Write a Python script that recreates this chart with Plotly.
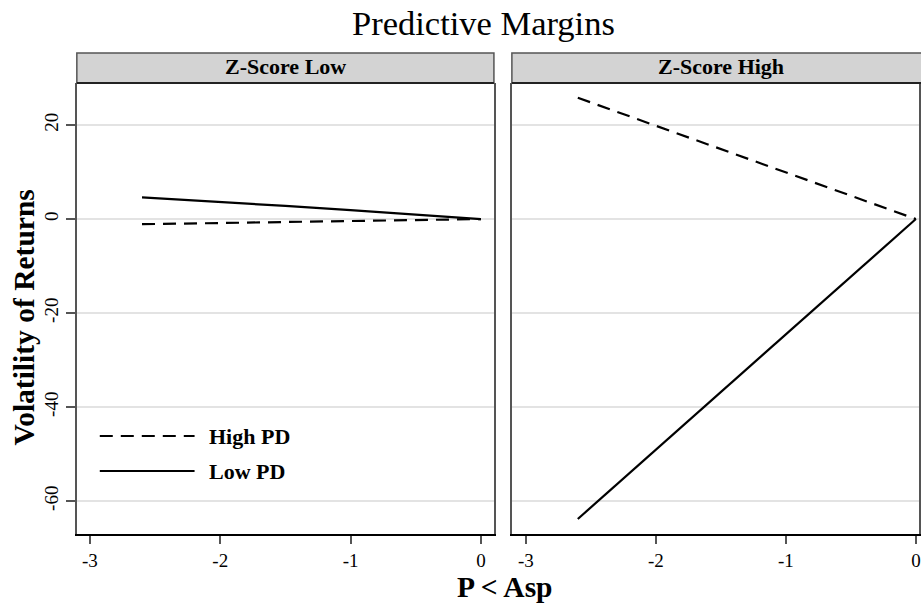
import plotly.graph_objects as go

W, H = 921, 604

# ---- data ----
low_z_lowpd_x = [-2.6, -2.0, -1.5, -1.0, -0.5, 0.0]
low_z_lowpd_y = [4.6, 3.7, 2.8, 1.9, 0.9, 0.0]
low_z_highpd_x = [-2.6, 0.0]
low_z_highpd_y = [-1.1, 0.0]
high_z_highpd_x = [-2.6, 0.0]
high_z_highpd_y = [25.8, 0.0]
high_z_lowpd_x = [-2.6, 0.0]
high_z_lowpd_y = [-63.8, 0.0]

panel_titles = ["Z-Score Low", "Z-Score High"]
series_names = ["High PD", "Low PD"]
y_ticks = [-60, -40, -20, 0, 20]
y_tick_labels = ["-60", "-40", "-20", "0", "20"]
x_ticks = [-3, -2, -1, 0]
x_tick_labels = ["-3", "-2", "-1", "0"]

SERIF = "Liberation Serif, Times New Roman, serif"
DASH = "13px,8px"


def px(x):
    return x / W


def py(y):
    return (H - y) / H


fig = go.Figure()
fig.add_trace(go.Scatter(x=low_z_highpd_x, y=low_z_highpd_y, mode="lines",
                         line=dict(color="black", width=2.2, dash=DASH),
                         xaxis="x", yaxis="y", name=series_names[0], showlegend=False))
fig.add_trace(go.Scatter(x=low_z_lowpd_x, y=low_z_lowpd_y, mode="lines",
                         line=dict(color="black", width=2.2),
                         xaxis="x", yaxis="y", name=series_names[1], showlegend=False))
fig.add_trace(go.Scatter(x=high_z_highpd_x, y=high_z_highpd_y, mode="lines",
                         line=dict(color="black", width=2.2, dash=DASH),
                         xaxis="x2", yaxis="y2", name=series_names[0], showlegend=False))
fig.add_trace(go.Scatter(x=high_z_lowpd_x, y=high_z_lowpd_y, mode="lines",
                         line=dict(color="black", width=2.2),
                         xaxis="x2", yaxis="y2", name=series_names[1], showlegend=False))

# panel geometry in pixels
L1, R1 = 77, 495
L2, R2 = 513, 921
TOP, BOT = 83, 534
HTOP = 53

yr = [-67.0, 28.94]
common_x = dict(tickvals=x_ticks, ticktext=x_tick_labels, ticks="outside", ticklen=8,
                tickwidth=1.5, tickcolor="#555", showgrid=False, zeroline=False,
                showline=True, linecolor="black", linewidth=2,
                tickfont=dict(family=SERIF, size=19, color="black"))
fig.update_layout(
    xaxis=dict(domain=[px(L1), px(R1)], range=[-3.1, 0.1], anchor="y", **common_x),
    xaxis2=dict(domain=[px(L2), px(R2)], range=[-3.107, 0.024], anchor="y2", **common_x),
    yaxis=dict(domain=[py(BOT), py(TOP)], range=yr, tickvals=y_ticks, ticktext=y_tick_labels,
               ticks="outside", ticklen=9, tickwidth=1.5, tickcolor="#555",
               tickangle=-90, showgrid=True, gridcolor="#e3e3e3", gridwidth=1.5,
               zeroline=False, showline=True, mirror=True, linecolor="#555",
               linewidth=1.5, anchor="x",
               tickfont=dict(family=SERIF, size=19, color="black")),
    yaxis2=dict(domain=[py(BOT), py(TOP)], range=yr, tickvals=y_ticks,
                showticklabels=False, ticks="", showgrid=True, gridcolor="#e3e3e3",
                gridwidth=1.5, zeroline=False, showline=True, mirror=True,
                linecolor="#555", linewidth=1.5, anchor="x2"),
    width=W, height=H,
    margin=dict(l=0, r=0, t=0, b=0),
    paper_bgcolor="white", plot_bgcolor="white",
    showlegend=False,
)

shapes = []
annotations = []
# panel header strips
for (l, r), title in zip([(L1, R1), (L2, R2 + 12)], panel_titles):
    shapes.append(dict(type="rect", xref="paper", yref="paper",
                       x0=px(l), x1=px(r), y0=py(TOP), y1=py(HTOP),
                       fillcolor="#d3d3d3", line=dict(color="#555", width=1.5),
                       layer="above"))
    shapes.append(dict(type="line", xref="paper", yref="paper",
                       x0=px(l), x1=px(r), y0=py(TOP), y1=py(TOP),
                       line=dict(color="#222", width=2), layer="above"))
    annotations.append(dict(text="<b>%s</b>" % title, xref="paper", yref="paper",
                            x=px((l + r) / 2), y=py(67), xanchor="center", yanchor="middle",
                            showarrow=False, font=dict(family=SERIF, size=22, color="black")))

# legend inside left panel
for yy, nm, dash in [(436, series_names[0], DASH), (471, series_names[1], "solid")]:
    shapes.append(dict(type="line", xref="paper", yref="paper",
                       x0=px(100), x1=px(195), y0=py(yy), y1=py(yy),
                       line=dict(color="black", width=2.2, dash=dash)))
    annotations.append(dict(text="<b>%s</b>" % nm, xref="paper", yref="paper",
                            x=px(207), y=py(yy), xanchor="left", yanchor="middle",
                            showarrow=False, font=dict(family=SERIF, size=22, color="black")))

# titles
annotations.append(dict(text="Predictive Margins", xref="paper", yref="paper",
                        x=px(484.5), y=py(23), xanchor="center", yanchor="middle",
                        showarrow=False, font=dict(family=SERIF, size=34.5, color="black")))
annotations.append(dict(text="<b>P &lt; Asp</b>", xref="paper", yref="paper",
                        x=px(506.5), y=py(587), xanchor="center", yanchor="middle",
                        showarrow=False, font=dict(family=SERIF, size=29.5, color="black")))
annotations.append(dict(text="<b>Volatility of Returns</b>", xref="paper", yref="paper",
                        x=px(25), y=py(317.5), xanchor="center", yanchor="middle",
                        textangle=-90, showarrow=False,
                        font=dict(family=SERIF, size=29.5, color="black")))

fig.update_layout(shapes=shapes, annotations=annotations)
fig.write_html("out.html", config={"displayModeBar": False},
               post_script="document.body.style.margin='0';")
